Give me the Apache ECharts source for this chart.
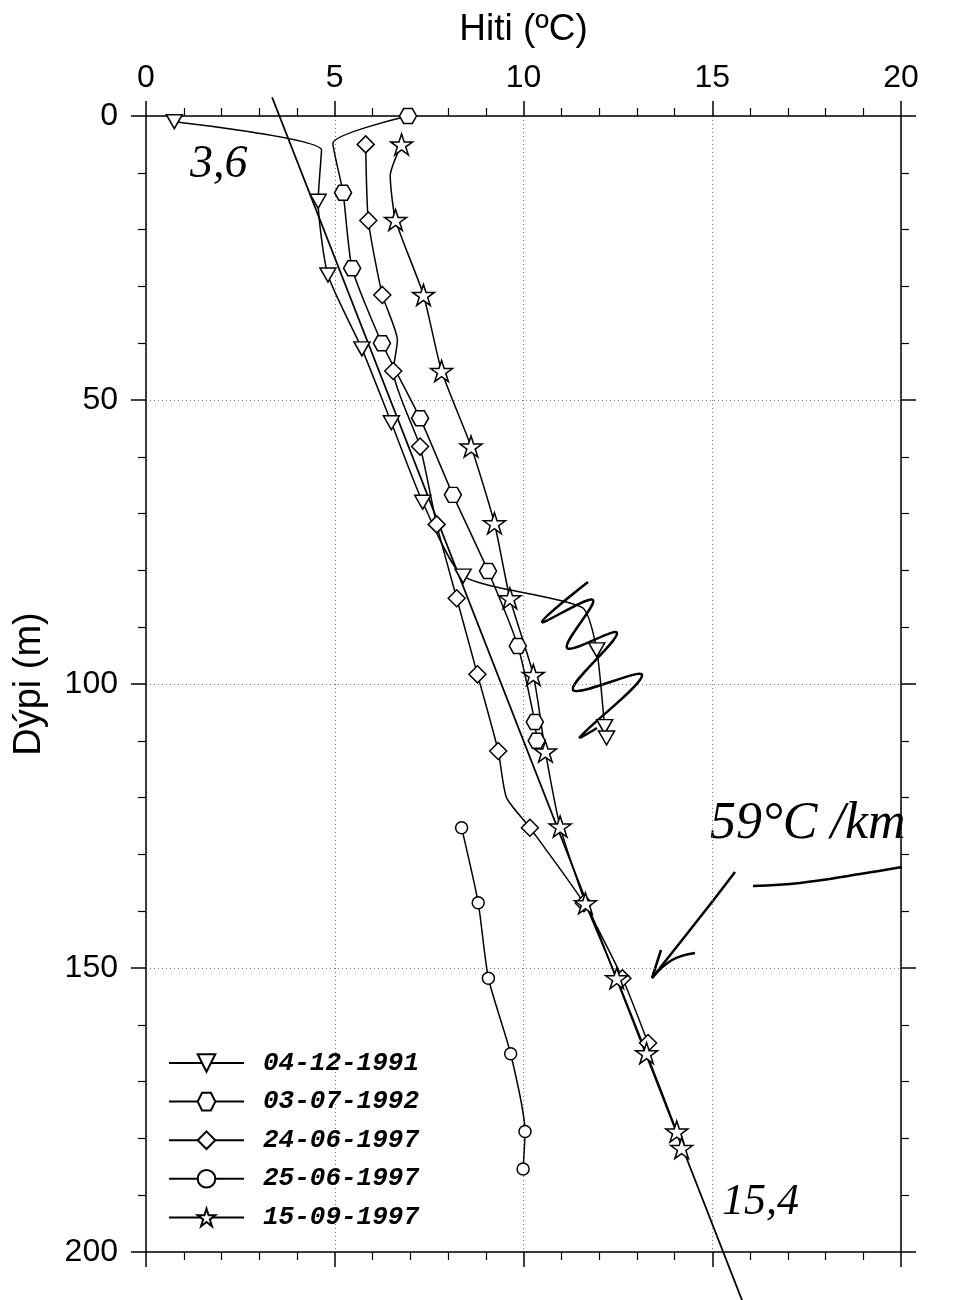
<!DOCTYPE html>
<html><head><meta charset="utf-8">
<script src="https://cdn.jsdelivr.net/npm/echarts@6/dist/echarts.min.js"></script>
<style>html,body{margin:0;padding:0;background:#fff}#chart{width:961px;height:1300px}</style>
</head><body><div id="chart"></div>
<script>
// ---- data (temperature °C, depth m); mark = 1 where a symbol is drawn ----
const seriesNames = ['04-12-1991', '03-07-1992', '24-06-1997', '25-06-1997', '15-09-1997'];

const temp1991  = [0.75, 4.65, 4.56, 4.82, 5.72, 6.50, 7.33, 8.40, 11.55, 11.94, 12.15, 12.20];
const depth1991 = [1.0,  6.0,  15.0, 28.0, 41.0, 54.0, 68.0, 81.0, 86.5,  94.0,  107.5, 109.5];
const mark1991  = [1,    0,    1,    1,    1,    1,    1,    1,    0,     1,     1,     1];

const temp1992  = [6.94, 4.95, 5.22, 5.46, 6.25, 7.26, 8.13, 9.06, 9.85, 10.30, 10.35];
const depth1992 = [0.0,  4.8,  13.5, 26.8, 40.0, 53.2, 66.7, 80.1, 93.3, 106.7, 110.0];
const mark1992  = [1,    0,    1,    1,    1,    1,    1,    1,    1,    1,     1];

const temp240697  = [5.82, 5.89, 6.26, 6.66, 6.55, 7.26, 7.70, 8.23, 8.78, 9.33,  9.55,  10.17, 11.60, 12.62, 13.30];
const depth240697 = [5.0,  18.4, 31.5, 39.5, 44.9, 58.2, 71.9, 84.9, 98.3, 111.8, 120.0, 125.3, 138.6, 151.8, 163.2];
const mark240697  = [1,    1,    1,    0,    1,    1,    1,    1,    1,    1,     0,     1,     1,     1,     1];

const temp250697  = [8.36,  8.80,  9.07,  9.66,  10.04, 9.99];
const depth250697 = [125.3, 138.5, 151.8, 165.1, 178.8, 185.4];
const mark250697  = [1,     1,     1,     1,     1,     1];

const temp150997  = [6.77, 6.47, 6.61, 7.35, 7.83, 8.61, 9.23, 9.64, 10.26, 10.58, 10.97, 11.64, 12.47, 13.26, 14.06, 14.19];
const depth150997 = [5.0,  10.5, 18.3, 31.5, 44.9, 58.2, 71.7, 84.9, 98.4,  111.9, 125.1, 138.6, 151.8, 165.0, 178.8, 181.7];
const mark150997  = [1,    0,    1,    1,    1,    1,    1,    1,    1,     1,     1,     1,     1,     1,     1,     1];

// hand-drawn gradient line (59 °C/km), endpoints
const gradTemp  = [3.34, 15.79];
const gradDepth = [-3.3, 208.5];

// ---- build ----
function pts(t, d, m) {
  return t.map((v, i) => (m && !m[i]) ? { value: [v, d[i]], symbol: 'none' } : { value: [v, d[i]] });
}
const SYM_TRI = 'path://M0,0 L100,0 L50,87 Z';
const SYM_HEX = 'path://M25,0 L75,0 L100,50 L75,100 L25,100 L0,50 Z';
const SYM_STAR = 'path://M50,0 L61.2,34.5 L97.6,34.5 L68.2,55.9 L79.4,90.5 L50,69.1 L20.6,90.5 L31.8,55.9 L2.4,34.5 L38.8,34.5 Z';

function measured(name, data, symbol, size) {
  return {
    name, type: 'line', data, symbol, symbolSize: size, showAllSymbol: true,
    smooth: 0.2, xAxisIndex: 0, yAxisIndex: 0,
    lineStyle: { color: '#000', width: 1.5 },
    itemStyle: { color: '#fff', borderColor: '#000', borderWidth: 1.5 },
    emphasis: { disabled: true }, z: 3
  };
}

const series = [
  measured(seriesNames[0], pts(temp1991, depth1991, mark1991), SYM_TRI, [16, 14]),
  measured(seriesNames[1], pts(temp1992, depth1992, mark1992), SYM_HEX, [17, 15]),
  measured(seriesNames[2], pts(temp240697, depth240697, mark240697), 'diamond', [17, 17]),
  measured(seriesNames[3], pts(temp250697, depth250697, mark250697), 'circle', 12),
  measured(seriesNames[4], pts(temp150997, depth150997, mark150997), SYM_STAR, [22, 21]),
  {
    name: 'gradient', type: 'line', data: pts(gradTemp, gradDepth), symbol: 'none', clip: false,
    xAxisIndex: 0, yAxisIndex: 0, lineStyle: { color: '#000', width: 1.8 }, z: 2, silent: true
  }
];

const axisFont = { fontFamily: 'Liberation Sans', fontSize: 32, color: '#000' };
const tickCommon = {
  axisLine: { show: true, onZero: false, lineStyle: { color: '#000', width: 1.5 } },
  axisTick: { show: true, inside: false, length: 15, lineStyle: { color: '#000', width: 1.5 } },
  minorTick: { show: true, splitNumber: 5, length: 8, lineStyle: { color: '#000', width: 1.2 } }
};
const gridDotted = { show: true, lineStyle: { color: '#777', width: 1, type: [1, 3] } };

const option = {
  backgroundColor: '#fff',
  animation: false,
  grid: { left: 146, right: 60, top: 116, bottom: 48 },
  xAxis: [
    Object.assign({
      type: 'value', position: 'top', min: 0, max: 20, interval: 5,
      name: 'Hiti (ºC)', nameLocation: 'middle', nameGap: 68,
      nameTextStyle: { fontFamily: 'Liberation Sans', fontSize: 37, color: '#000' },
      axisLabel: Object.assign({ margin: 22 }, axisFont),
      splitLine: gridDotted
    }, tickCommon),
    Object.assign({
      type: 'value', position: 'bottom', min: 0, max: 20, interval: 5,
      axisLabel: { show: false }, splitLine: { show: false }
    }, tickCommon)
  ],
  yAxis: [
    Object.assign({
      type: 'value', position: 'left', inverse: true, min: 0, max: 200, interval: 50,
      name: 'Dýpi (m)', nameLocation: 'middle', nameGap: 97,
      nameTextStyle: { fontFamily: 'Liberation Sans', fontSize: 38, color: '#000' },
      axisLabel: Object.assign({ margin: 28 }, axisFont),
      splitLine: gridDotted
    }, tickCommon),
    Object.assign({
      type: 'value', position: 'right', inverse: true, min: 0, max: 200, interval: 50,
      axisLabel: { show: false }, splitLine: { show: false }
    }, tickCommon)
  ],
  legend: {
    data: seriesNames, orient: 'vertical', left: 168, top: 1050, padding: 0,
    itemWidth: 75, itemHeight: 22, itemGap: 12.6,
    textStyle: { fontFamily: 'Liberation Mono', fontWeight: 'bold', fontStyle: 'italic', fontSize: 26, lineHeight: 26, color: '#000', padding: [0, 0, 0, 14] },
    selectedMode: false
  },
  series,
  graphic: [
    { type: 'text', left: 190, top: 142, style: { text: '3,6', fontFamily: 'Liberation Serif', fontStyle: 'italic', fontSize: 46, fill: '#000' } },
    { type: 'text', left: 710, top: 798, style: { text: '59°C /km', fontFamily: 'Liberation Serif', fontStyle: 'italic', fontSize: 52, fill: '#000' } },
    { type: 'text', left: 722, top: 1180, style: { text: '15,4', fontFamily: 'Liberation Serif', fontStyle: 'italic', fontSize: 44, fill: '#000' } },
    { type: 'polyline', shape: { points: [[735, 872], [712, 902], [652, 978]], smooth: 0.3 }, style: { stroke: '#000', lineWidth: 2.5, fill: null } },
    { type: 'polyline', shape: { points: [[661, 950], [652, 978]] }, style: { stroke: '#000', lineWidth: 2.5, fill: null } },
    { type: 'polyline', shape: { points: [[695, 953], [672, 960], [652, 978]], smooth: 0.4 }, style: { stroke: '#000', lineWidth: 2.5, fill: null } },
    { type: 'polyline', shape: { points: [[753, 886], [800, 883], [860, 874], [902, 867]], smooth: 0.4 }, style: { stroke: '#000', lineWidth: 2.5, fill: null } },
    { type: 'polyline', shape: { points: [[588, 582], [542, 622], [593, 600], [567, 648], [617, 633], [573, 690], [642, 675], [580, 737], [597, 728]], smooth: 0.35 }, style: { stroke: '#000', lineWidth: 2.5, fill: null } }
  ]
};

const chart = echarts.init(document.getElementById('chart'), null, { renderer: 'canvas' });
chart.setOption(option);
</script>
</body></html>
